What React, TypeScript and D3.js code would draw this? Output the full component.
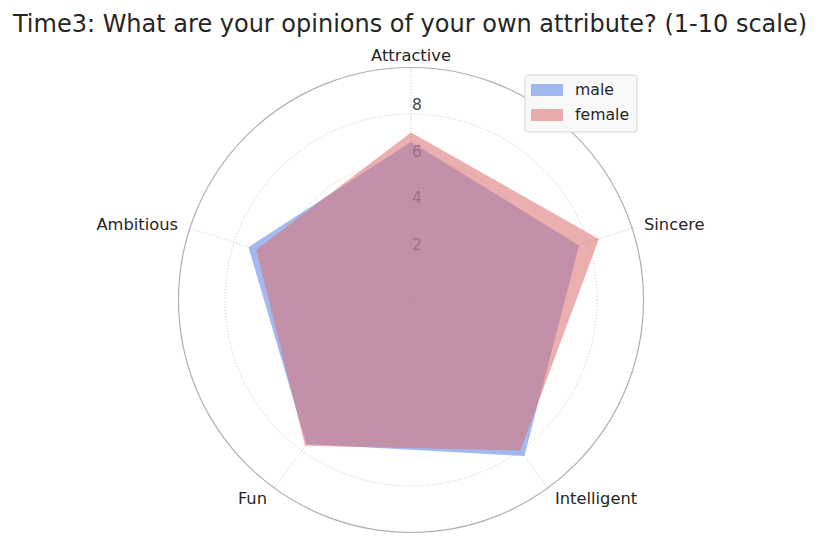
import React from 'react';
import * as d3 from 'd3';

// attribute axes, clockwise from the top
const attributes = ['Attractive', 'Sincere', 'Intelligent', 'Fun', 'Ambitious'];
const maleValues = [6.8, 7.6, 8.3, 7.65, 7.35];
const femaleValues = [7.2, 8.5, 8.0, 7.75, 7.0];
const radialTicks = [2, 4, 6, 8];
const seriesNames = ['male', 'female'];
const title = 'Time3: What are your opinions of your own attribute? (1-10 scale)';

const WIDTH = 824;
const HEIGHT = 550;
const cx = 411;
const cy = 300;
const FONT = '"DejaVu Sans", sans-serif';

const colors = {
  male: { fill: 'rgb(100,140,230)', opacity: 0.6 },
  female: { fill: 'rgb(220,110,110)', opacity: 0.55 },
};

export default function App() {
  const r = d3.scaleLinear().domain([0, 10]).range([0, 232.5]);
  const angle = d3.scalePoint<string>()
    .domain(attributes)
    .range([0, (2 * Math.PI * (attributes.length - 1)) / attributes.length]);

  const radial = d3.lineRadial<number>()
    .angle((_, i) => angle(attributes[i]) as number)
    .radius(d => r(d))
    .curve(d3.curveLinearClosed);

  const series = [
    { name: seriesNames[0], values: maleValues, ...colors.male },
    { name: seriesNames[1], values: femaleValues, ...colors.female },
  ];

  const labelR = r(10) + 12.5;

  return (
    <svg width={WIDTH} height={HEIGHT} style={{ position: 'absolute', left: 0, top: 0, background: '#fff' }}
      fontFamily={FONT}>
      <text x={410} y={32} textAnchor="middle" fontSize={24} fill="#262626">{title}</text>

      <g transform={`translate(${cx},${cy})`}>
        {/* grid circles */}
        {radialTicks.map(t => (
          <circle key={t} r={r(t)} fill="none" stroke="#c8c8c8" strokeWidth={1} strokeDasharray="1,2" />
        ))}
        {/* spokes */}
        {attributes.map(a => {
          const th = angle(a) as number;
          return (
            <line key={a} x1={0} y1={0} x2={r(10) * Math.sin(th)} y2={-r(10) * Math.cos(th)}
              stroke="#c8c8c8" strokeWidth={1} strokeDasharray="1,2" />
          );
        })}
        <circle r={r(10)} fill="none" stroke="#b0b0b0" strokeWidth={1.2} />

        {/* radial tick labels */}
        {radialTicks.map(t => (
          <text key={t} x={1} y={-r(t) - 4} fontSize={15.5} fill="#444">{t}</text>
        ))}

        {/* filled series */}
        {series.map(s => (
          <path key={s.name} d={radial(s.values) as string} fill={s.fill} fillOpacity={s.opacity} stroke="none" />
        ))}

        {/* axis labels */}
        {attributes.map(a => {
          const th = angle(a) as number;
          const x = labelR * Math.sin(th);
          const y = -labelR * Math.cos(th);
          const anchor = Math.abs(x) < 1 ? 'middle' : x > 0 ? 'start' : 'end';
          return (
            <text key={a} x={x} y={y} dy="0.35em" textAnchor={anchor} fontSize={16.3} fill="#262626">{a}</text>
          );
        })}
      </g>

      {/* legend */}
      <g transform="translate(525,75)">
        <rect x={0} y={0} width={112} height={57} rx={3} fill="#f8f8f8" fillOpacity={0.9} stroke="#d6d6d6" />
        {series.map((s, i) => (
          <g key={s.name} transform={`translate(0,${i * 25})`}>
            <rect x={6} y={9} width={32} height={12} fill={s.fill} fillOpacity={s.opacity} />
            <text x={50} y={15} dy="0.35em" fontSize={15.7} fill="#262626">{s.name}</text>
          </g>
        ))}
      </g>
    </svg>
  );
}
